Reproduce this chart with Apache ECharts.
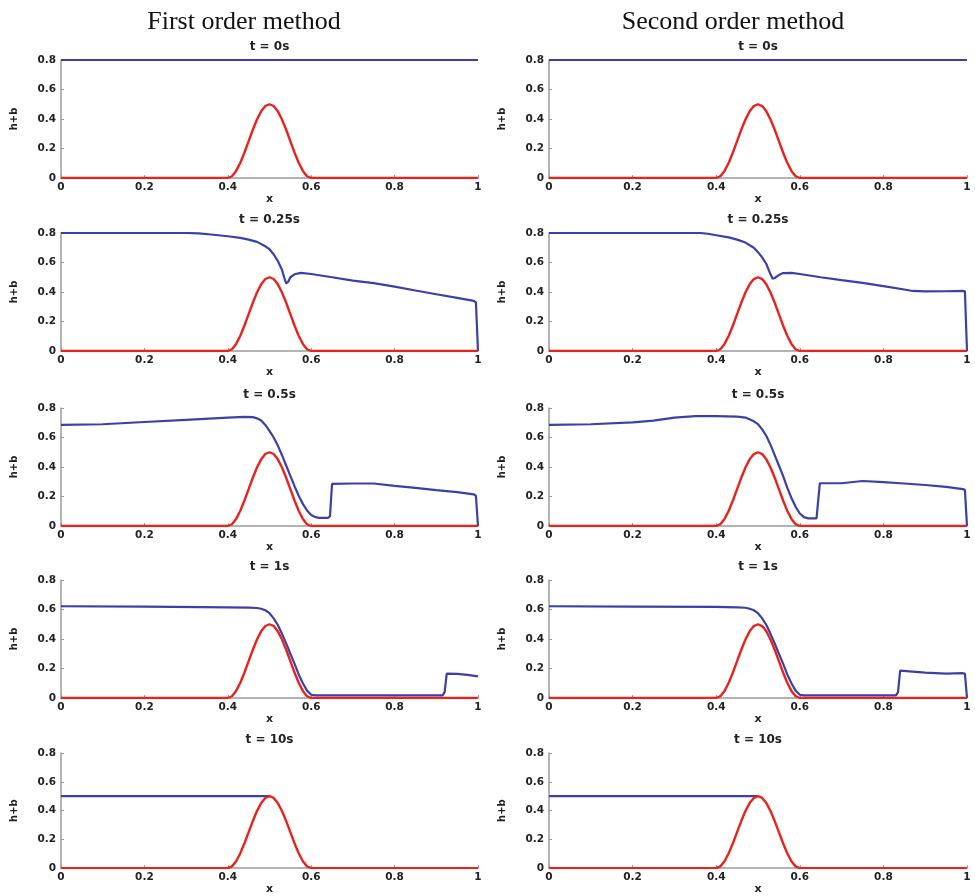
<!DOCTYPE html>
<html>
<head>
<meta charset="utf-8">
<script src="https://cdn.jsdelivr.net/npm/echarts@6/dist/echarts.min.js"></script>
<style>
  html, body { margin: 0; padding: 0; background: #fff; }
  #chart { width: 975px; height: 896px; }
</style>
</head>
<body>
<div id="chart"></div>
<script>
// Column headers and panel titles
const methodNames = ['First order method', 'Second order method'];
const timeLabels = ['t = 0s', 't = 0.25s', 't = 0.5s', 't = 1s', 't = 10s'];
const xTicks = [0, 0.2, 0.4, 0.6, 0.8, 1];
const yTicks = [0, 0.2, 0.4, 0.6, 0.8];

// Bottom topography b(x): a bump centred at x = 0.5
const bed = [
  [0, 0], [0.40, 0], [0.41, 0.012], [0.42, 0.048], [0.43, 0.103], [0.44, 0.173],
  [0.45, 0.25], [0.46, 0.327], [0.47, 0.397], [0.48, 0.452], [0.49, 0.488],
  [0.50, 0.5], [0.51, 0.488], [0.52, 0.452], [0.53, 0.397], [0.54, 0.327],
  [0.55, 0.25], [0.56, 0.173], [0.57, 0.103], [0.58, 0.048], [0.59, 0.012],
  [0.60, 0], [1, 0]
];

// Free surface h+b, first order scheme
const firstT0 = [[0, 0.8], [1, 0.8]];
const firstT025 = [
  [0, 0.8], [0.1, 0.8], [0.2, 0.8], [0.3, 0.8], [0.33, 0.797], [0.36, 0.79],
  [0.4, 0.778], [0.43, 0.767], [0.45, 0.755], [0.47, 0.74], [0.49, 0.71],
  [0.5, 0.69], [0.51, 0.655], [0.52, 0.61], [0.53, 0.55], [0.535, 0.5],
  [0.54, 0.458], [0.545, 0.47], [0.55, 0.5], [0.56, 0.52], [0.575, 0.53],
  [0.6, 0.522], [0.65, 0.5], [0.7, 0.477], [0.75, 0.46], [0.8, 0.436],
  [0.85, 0.41], [0.9, 0.385], [0.95, 0.36], [0.99, 0.34], [0.995, 0.33], [1, 0]
];
const firstT05 = [
  [0, 0.685], [0.1, 0.69], [0.2, 0.705], [0.3, 0.72], [0.4, 0.735], [0.44, 0.74],
  [0.46, 0.738], [0.47, 0.73], [0.48, 0.715], [0.49, 0.685], [0.5, 0.645],
  [0.51, 0.6], [0.52, 0.545], [0.53, 0.48], [0.54, 0.41], [0.55, 0.34],
  [0.56, 0.27], [0.57, 0.205], [0.58, 0.15], [0.59, 0.105], [0.6, 0.075],
  [0.61, 0.06], [0.62, 0.055], [0.64, 0.055], [0.645, 0.065], [0.65, 0.285],
  [0.7, 0.288], [0.75, 0.288], [0.8, 0.272], [0.85, 0.258], [0.9, 0.243],
  [0.95, 0.23], [0.99, 0.215], [0.995, 0.205], [1, 0]
];
const firstT1 = [
  [0, 0.622], [0.2, 0.62], [0.4, 0.615], [0.45, 0.613], [0.47, 0.61],
  [0.48, 0.605], [0.49, 0.595], [0.5, 0.575], [0.51, 0.54], [0.52, 0.495],
  [0.53, 0.435], [0.54, 0.37], [0.55, 0.3], [0.56, 0.233], [0.57, 0.16],
  [0.58, 0.1], [0.59, 0.05], [0.6, 0.022], [0.61, 0.018], [0.7, 0.018],
  [0.8, 0.018], [0.915, 0.018], [0.92, 0.04], [0.925, 0.165], [0.95, 0.163],
  [0.975, 0.157], [1, 0.147]
];
const firstT10 = [[0, 0.5], [0.5, 0.5]];

// Free surface h+b, second order scheme
const secondT0 = [[0, 0.8], [1, 0.8]];
const secondT025 = [
  [0, 0.8], [0.2, 0.8], [0.36, 0.8], [0.38, 0.795], [0.4, 0.785], [0.43, 0.77],
  [0.45, 0.755], [0.47, 0.735], [0.49, 0.7], [0.5, 0.67], [0.51, 0.635],
  [0.52, 0.59], [0.53, 0.52], [0.535, 0.49], [0.54, 0.495], [0.55, 0.515],
  [0.56, 0.528], [0.58, 0.53], [0.6, 0.522], [0.65, 0.5], [0.7, 0.48],
  [0.75, 0.462], [0.8, 0.44], [0.85, 0.417], [0.87, 0.407], [0.9, 0.404],
  [0.95, 0.405], [0.99, 0.408], [0.995, 0.405], [1, 0]
];
const secondT05 = [
  [0, 0.685], [0.1, 0.69], [0.2, 0.703], [0.25, 0.715], [0.3, 0.735],
  [0.35, 0.745], [0.4, 0.745], [0.45, 0.742], [0.47, 0.735], [0.49, 0.71],
  [0.5, 0.69], [0.51, 0.655], [0.52, 0.61], [0.53, 0.55], [0.54, 0.48],
  [0.55, 0.41], [0.56, 0.34], [0.57, 0.26], [0.58, 0.19], [0.59, 0.13],
  [0.6, 0.085], [0.61, 0.06], [0.62, 0.052], [0.64, 0.052], [0.643, 0.06],
  [0.648, 0.29], [0.7, 0.29], [0.75, 0.305], [0.8, 0.298], [0.85, 0.288],
  [0.9, 0.278], [0.95, 0.265], [0.99, 0.25], [0.995, 0.245], [1, 0]
];
const secondT1 = [
  [0, 0.622], [0.2, 0.62], [0.4, 0.618], [0.45, 0.615], [0.47, 0.612],
  [0.48, 0.605], [0.49, 0.595], [0.5, 0.575], [0.51, 0.54], [0.52, 0.495],
  [0.53, 0.435], [0.54, 0.37], [0.55, 0.3], [0.56, 0.233], [0.57, 0.16],
  [0.58, 0.1], [0.59, 0.05], [0.6, 0.022], [0.61, 0.018], [0.7, 0.018],
  [0.83, 0.018], [0.835, 0.04], [0.84, 0.185], [0.9, 0.172], [0.95, 0.165],
  [0.99, 0.168], [0.995, 0.165], [1, 0]
];
const secondT10 = [[0, 0.5], [0.5, 0.5]];

const surfaces = [
  [firstT0, firstT025, firstT05, firstT1, firstT10],
  [secondT0, secondT025, secondT05, secondT1, secondT10]
];

// Panel geometry (pixels)
const colLeft = [61, 549];
const colWidth = [417, 418];
const headerCenter = [244, 733];
const rowTop = [60, 233, 408, 580, 753];
const panelHeight = 118;

const surfaceColor = '#3b40a8';
const bedColor = '#e8231c';
const axisColor = '#9a9a9a';
const tickFont = 'DejaVu Sans';

const grids = [], xAxes = [], yAxes = [], series = [], titles = [];

methodNames.forEach((name, c) => {
  titles.push({
    text: name,
    left: headerCenter[c],
    top: 9,
    textAlign: 'center',
    padding: 0,
    textStyle: { fontFamily: 'Liberation Serif', fontSize: 26, fontWeight: 'normal', color: '#111' }
  });
});

for (let c = 0; c < 2; c++) {
  for (let r = 0; r < 5; r++) {
    const idx = grids.length;
    grids.push({ left: colLeft[c], top: rowTop[r], width: colWidth[c], height: panelHeight });
    titles.push({
      text: timeLabels[r],
      left: colLeft[c] + colWidth[c] / 2,
      top: rowTop[r] - 19,
      textAlign: 'center',
      padding: 0,
      textStyle: { fontFamily: tickFont, fontSize: 12, fontWeight: 'bold', color: '#222' }
    });
    xAxes.push({
      type: 'value', gridIndex: idx, min: 0, max: 1, interval: 0.2,
      name: 'x', nameLocation: 'middle', nameGap: 11,
      nameTextStyle: { fontFamily: tickFont, fontSize: 11, fontWeight: 'bold', color: '#222' },
      axisLine: { show: true, lineStyle: { color: axisColor, width: 1.5 } },
      axisTick: { show: true, inside: true, length: 3, lineStyle: { color: axisColor } },
      axisLabel: {
        margin: 4, fontFamily: tickFont, fontSize: 10.5, fontWeight: 'bold', color: '#222',
        formatter: v => (xTicks.includes(Math.round(v * 10) / 10) ? String(Math.round(v * 10) / 10) : '')
      },
      splitLine: { show: false }
    });
    yAxes.push({
      type: 'value', gridIndex: idx, min: 0, max: 0.8, interval: 0.2,
      name: 'h+b', nameLocation: 'middle', nameRotate: 90, nameGap: 42,
      nameTextStyle: { fontFamily: tickFont, fontSize: 10, fontWeight: 'bold', color: '#222' },
      axisLine: { show: true, lineStyle: { color: axisColor, width: 1.5 } },
      axisTick: { show: true, inside: true, length: 3, lineStyle: { color: axisColor } },
      axisLabel: {
        margin: 5, fontFamily: tickFont, fontSize: 10.5, fontWeight: 'bold', color: '#222',
        formatter: v => (yTicks.includes(Math.round(v * 10) / 10) ? String(Math.round(v * 10) / 10) : '')
      },
      splitLine: { show: false }
    });
    series.push({
      type: 'line', xAxisIndex: idx, yAxisIndex: idx, data: surfaces[c][r],
      showSymbol: false, silent: true, z: 2,
      lineStyle: { color: surfaceColor, width: 2.2 }
    });
    series.push({
      type: 'line', xAxisIndex: idx, yAxisIndex: idx, data: bed,
      showSymbol: false, silent: true, z: 3,
      lineStyle: { color: bedColor, width: 2.4 }
    });
  }
}

const chart = echarts.init(document.getElementById('chart'), null, { renderer: 'canvas' });
chart.setOption({
  animation: false,
  backgroundColor: '#fff',
  title: titles,
  grid: grids,
  xAxis: xAxes,
  yAxis: yAxes,
  series: series
});
</script>
</body>
</html>
